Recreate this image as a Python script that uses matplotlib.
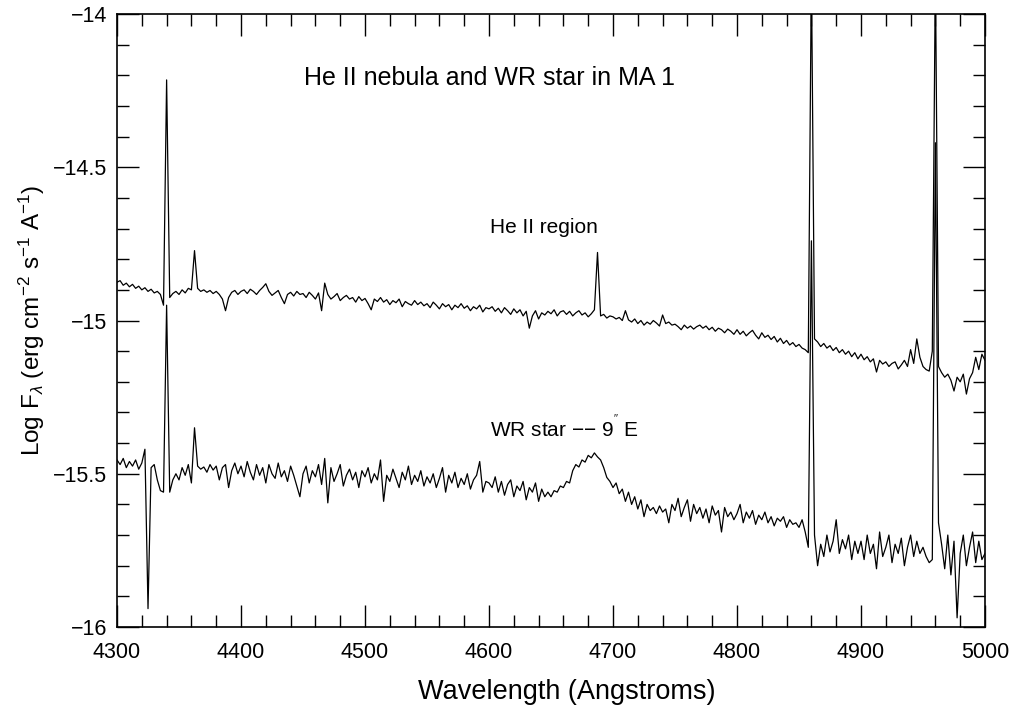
import numpy as np
import matplotlib
matplotlib.use("Agg")
import matplotlib.pyplot as plt
from matplotlib.ticker import MultipleLocator, FuncFormatter

plt.rcParams['font.family'] = ['Liberation Sans', 'DejaVu Sans']
plt.rcParams['mathtext.fontset'] = 'custom'
plt.rcParams['mathtext.rm'] = 'Liberation Sans'
plt.rcParams['mathtext.it'] = 'Liberation Sans:italic'

# wavelength grid, 2.5 A steps from 4300 to 5000
wave = np.arange(4300.0, 5000.1, 2.5)

# He II region (upper spectrum), log flux
neb_flux = [
    -14.875, -14.870, -14.885, -14.878, -14.890, -14.882, -14.895, -14.888, -14.900, -14.893,
    -14.905, -14.898, -14.910, -14.905, -14.915, -14.950, -14.215, -14.925, -14.912, -14.905,
    -14.915, -14.900, -14.910, -14.895, -14.900, -14.772, -14.895, -14.905, -14.900, -14.908,
    -14.902, -14.912, -14.905, -14.915, -14.930, -14.968, -14.925, -14.908, -14.902, -14.915,
    -14.905, -14.900, -14.912, -14.898, -14.905, -14.915, -14.902, -14.892, -14.880, -14.905,
    -14.918, -14.910, -14.902, -14.925, -14.945, -14.915, -14.908, -14.920, -14.905, -14.915,
    -14.912, -14.925, -14.908, -14.918, -14.930, -14.910, -14.968, -14.878, -14.915, -14.930,
    -14.922, -14.912, -14.935, -14.925, -14.918, -14.930, -14.925, -14.940, -14.922, -14.935,
    -14.928, -14.945, -14.965, -14.930, -14.938, -14.925, -14.940, -14.932, -14.948, -14.935,
    -14.942, -14.930, -14.955, -14.938, -14.945, -14.950, -14.935, -14.948, -14.940, -14.952,
    -14.945, -14.958, -14.940, -14.950, -14.962, -14.945, -14.955, -14.948, -14.965, -14.950,
    -14.958, -14.945, -14.960, -14.952, -14.968, -14.955, -14.962, -14.950, -14.972, -14.958,
    -14.962, -14.955, -14.970, -14.960, -14.975, -14.958, -14.968, -14.980, -14.962, -14.975,
    -14.965, -14.985, -14.970, -15.025, -14.985, -14.968, -14.995, -14.975, -14.982, -14.970,
    -14.978, -14.965, -14.985, -14.972, -14.968, -14.980, -14.970, -14.985, -14.975, -14.968,
    -14.982, -14.975, -14.988, -14.978, -14.965, -14.778, -14.985, -14.980, -14.992, -14.985,
    -14.988, -14.995, -14.990, -15.000, -14.968, -14.998, -15.005, -14.995, -15.010, -15.000,
    -15.015, -15.005, -15.012, -15.000, -15.008, -15.018, -14.982, -15.010, -15.005, -15.015,
    -15.012, -15.020, -15.030, -15.015, -15.025, -15.018, -15.028, -15.020, -15.015, -15.025,
    -15.018, -15.030, -15.022, -15.035, -15.025, -15.030, -15.040, -15.028, -15.035, -15.045,
    -15.030, -15.045, -15.035, -15.050, -15.040, -15.032, -15.048, -15.060, -15.040, -15.055,
    -15.048, -15.062, -15.052, -15.070, -15.058, -15.075, -15.065, -15.080, -15.072, -15.085,
    -15.078, -15.090, -15.095, -15.105, -13.850, -15.060, -15.070, -15.085, -15.075, -15.090,
    -15.082, -15.098, -15.088, -15.105, -15.095, -15.110, -15.100, -15.118, -15.105, -15.125,
    -15.110, -15.128, -15.118, -15.135, -15.125, -15.168, -15.130, -15.142, -15.135, -15.150,
    -15.140, -15.135, -15.158, -15.145, -15.130, -15.150, -15.095, -15.140, -15.060, -15.120,
    -15.150, -15.160, -15.165, -15.100, -13.850, -15.150, -15.170, -15.185, -15.175, -15.195,
    -15.230, -15.185, -15.200, -15.175, -15.240, -15.190, -15.170, -15.120, -15.160, -15.110,
    -15.130,
]

# WR star 9" E (lower spectrum)
wr_flux = [
    -15.455, -15.470, -15.450, -15.480, -15.460, -15.475, -15.455, -15.485, -15.465, -15.420,
    -15.940, -15.480, -15.470, -15.520, -15.555, -15.560, -14.950, -15.560, -15.520, -15.500,
    -15.520, -15.480, -15.505, -15.470, -15.530, -15.350, -15.475, -15.485, -15.478, -15.495,
    -15.470, -15.488, -15.475, -15.520, -15.480, -15.470, -15.545, -15.490, -15.465, -15.500,
    -15.475, -15.510, -15.460, -15.495, -15.520, -15.470, -15.505, -15.480, -15.530, -15.470,
    -15.500, -15.515, -15.465, -15.510, -15.490, -15.525, -15.475, -15.505, -15.540, -15.575,
    -15.500, -15.475, -15.530, -15.490, -15.510, -15.470, -15.535, -15.450, -15.595, -15.480,
    -15.525, -15.500, -15.470, -15.540, -15.505, -15.485, -15.520, -15.495, -15.545, -15.490,
    -15.510, -15.480, -15.530, -15.500, -15.520, -15.455, -15.590, -15.505, -15.525, -15.485,
    -15.515, -15.545, -15.495, -15.520, -15.475, -15.535, -15.505, -15.525, -15.490, -15.540,
    -15.510, -15.530, -15.500, -15.545, -15.515, -15.480, -15.560, -15.505, -15.530, -15.495,
    -15.545, -15.515, -15.535, -15.500, -15.550, -15.520, -15.505, -15.460, -15.560, -15.525,
    -15.530, -15.545, -15.510, -15.560, -15.525, -15.570, -15.535, -15.520, -15.575, -15.540,
    -15.555, -15.525, -15.585, -15.545, -15.560, -15.530, -15.590, -15.550, -15.575, -15.560,
    -15.575, -15.555, -15.560, -15.540, -15.545, -15.525, -15.530, -15.490, -15.470, -15.478,
    -15.455, -15.462, -15.440, -15.448, -15.432, -15.445, -15.455, -15.480, -15.512, -15.525,
    -15.545, -15.530, -15.565, -15.550, -15.590, -15.560, -15.600, -15.575, -15.615, -15.585,
    -15.640, -15.600, -15.620, -15.610, -15.630, -15.605, -15.625, -15.615, -15.660, -15.600,
    -15.620, -15.580, -15.640, -15.610, -15.585, -15.655, -15.600, -15.630, -15.610, -15.645,
    -15.615, -15.660, -15.605, -15.635, -15.620, -15.690, -15.610, -15.640, -15.625, -15.650,
    -15.630, -15.600, -15.660, -15.625, -15.645, -15.620, -15.665, -15.635, -15.650, -15.625,
    -15.660, -15.640, -15.670, -15.645, -15.655, -15.640, -15.675, -15.650, -15.665, -15.660,
    -15.675, -15.650, -15.690, -15.740, -14.740, -15.700, -15.800, -15.730, -15.770, -15.700,
    -15.755, -15.720, -15.650, -15.760, -15.715, -15.745, -15.700, -15.780, -15.720, -15.760,
    -15.720, -15.780, -15.700, -15.760, -15.730, -15.810, -15.690, -15.770, -15.740, -15.700,
    -15.790, -15.730, -15.760, -15.710, -15.800, -15.740, -15.700, -15.770, -15.720, -15.760,
    -15.740, -15.770, -15.790, -15.780, -14.420, -15.660, -15.730, -15.810, -15.700, -15.830,
    -15.720, -15.970, -15.760, -15.700, -15.800, -15.740, -15.690, -15.790, -15.720, -15.780,
    -15.760,
]

fig = plt.figure(figsize=(10.14, 7.08), dpi=100)
ax = fig.add_axes([0.1154, 0.1144, 0.8560, 0.8658])

ax.plot(wave, neb_flux, color='black', lw=0.9)
ax.plot(wave, wr_flux, color='black', lw=0.9)

ax.set_xlim(4300, 5000)
ax.set_ylim(-16, -14)

ax.xaxis.set_major_locator(MultipleLocator(100))
ax.xaxis.set_minor_locator(MultipleLocator(20))
ax.yaxis.set_major_locator(MultipleLocator(0.5))
ax.yaxis.set_minor_locator(MultipleLocator(0.1))
ax.yaxis.set_major_formatter(FuncFormatter(lambda v, p: ('%g' % v).replace('-', '\u2212')))

ax.tick_params(which='both', direction='in', top=True, right=True, labelsize=15.5, width=1.0)
ax.tick_params(which='major', length=16)
ax.tick_params(which='minor', length=8.5)
ax.tick_params(axis='x', which='major', pad=11)
ax.tick_params(axis='y', which='major', pad=7)
for sp in ax.spines.values():
    sp.set_linewidth(1.2)

ax.set_xlabel('Wavelength (Angstroms)', fontsize=19.5)
ax.xaxis.set_label_coords(0.518, -0.085)
ax.set_ylabel(r'Log F$_\lambda$ (erg cm$^{-2}$ s$^{-1}$ A$^{-1}$)', fontsize=17.5, labelpad=4)

ax.text(4451, -14.209, 'He II nebula and WR star in MA 1', fontsize=18, ha='left', va='center')
ax.text(4601, -14.698, 'He II region', fontsize=15, ha='left', va='center')
ax.text(4601, -15.35, "WR star \u2212\u2212 9$^{''}$ E", fontsize=15, ha='left', va='center')

fig.savefig('out.png', dpi=100)
